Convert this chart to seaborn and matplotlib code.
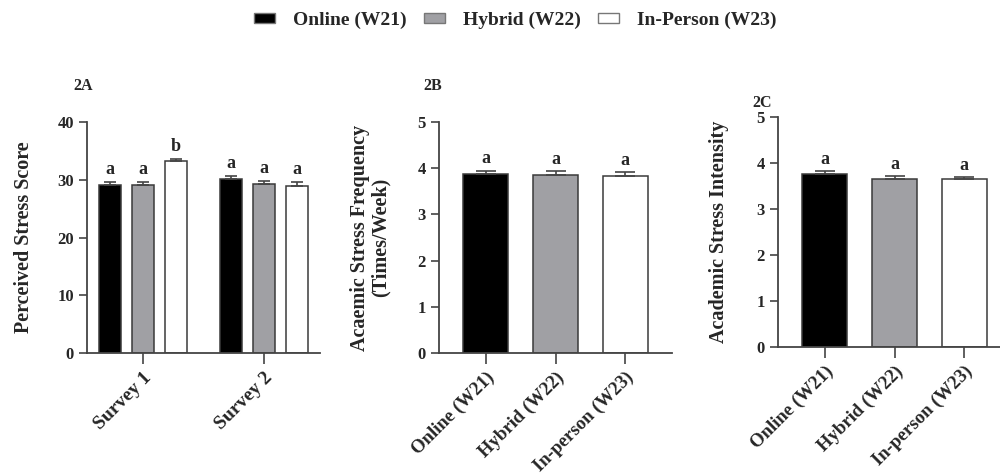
import matplotlib
matplotlib.use('Agg')
import pandas as pd
import matplotlib.pyplot as plt
import seaborn as sns
from matplotlib.patches import Patch

modes = ['Online (W21)', 'Hybrid (W22)', 'In-Person (W23)']
mode_ticks = ['Online (W21)', 'Hybrid (W22)', 'In-person (W23)']
surveys = ['Survey 1', 'Survey 2']
colors = ['#000000', '#a0a0a4', '#ffffff']

# 2A perceived stress score, per survey and mode
pss_s1 = [29.1, 29.1, 33.2]
pss_s2 = [30.2, 29.2, 29.0]
pss_err_s1 = [0.55, 0.5, 0.35]
pss_err_s2 = [0.45, 0.55, 0.6]
pss_letters_s1 = ['a', 'a', 'b']
pss_letters_s2 = ['a', 'a', 'a']

# 2B frequency, 2C intensity
freq = [3.88, 3.85, 3.83]
freq_err = [0.07, 0.08, 0.08]
intens = [3.77, 3.66, 3.65]
intens_err = [0.05, 0.05, 0.05]

sns.set_style('ticks')
plt.rcParams['font.family'] = ['Liberation Serif', 'DejaVu Serif']
plt.rcParams['font.weight'] = 'bold'
plt.rcParams['axes.labelweight'] = 'bold'

spine_c = '#444444'
edge_c = '#3a3a3a'

df_a = pd.DataFrame({
    'survey': [s for s in surveys for _ in modes],
    'mode': modes * 2,
    'value': pss_s1 + pss_s2,
    'err': pss_err_s1 + pss_err_s2,
    'letter': pss_letters_s1 + pss_letters_s2,
})
df_b = pd.DataFrame({'mode': modes, 'value': freq, 'err': freq_err, 'letter': ['a'] * 3})
df_c = pd.DataFrame({'mode': modes, 'value': intens, 'err': intens_err, 'letter': ['a'] * 3})

fig = plt.figure(figsize=(10, 4.76), dpi=100)
axA = fig.add_axes([0.087, 0.2584, 0.233, 0.4853])
axB = fig.add_axes([0.439, 0.2584, 0.233, 0.4853])
axC = fig.add_axes([0.778, 0.271, 0.233, 0.483])

pal = dict(zip(modes, colors))

sns.barplot(data=df_a, x='survey', y='value', hue='mode', hue_order=modes,
            palette=pal, width=0.82, gap=0.33, errorbar=None,
            edgecolor=edge_c, linewidth=1.1, legend=False, ax=axA)
sns.barplot(data=df_b, x='mode', y='value', hue='mode', palette=pal,
            width=0.65, errorbar=None, edgecolor=edge_c, linewidth=1.1,
            legend=False, ax=axB)
sns.barplot(data=df_c, x='mode', y='value', hue='mode', palette=pal,
            width=0.65, errorbar=None, edgecolor=edge_c, linewidth=1.1,
            legend=False, ax=axC)


def add_err(ax, df, cap, off):
    bars = sorted([p for p in ax.patches if p.get_height() > 0],
                  key=lambda p: p.get_x())
    for p, (_, row) in zip(bars, df.iterrows()):
        xc = p.get_x() + p.get_width() / 2
        h = p.get_height()
        ax.errorbar(xc, h, yerr=[[0], [row['err']]], color='#444444',
                    capsize=cap, elinewidth=1.2, capthick=1.2, zorder=1)
        ax.text(xc, h + row['err'] + off, row['letter'], ha='center',
                va='bottom', fontsize=13, fontweight='bold')


add_err(axA, df_a, 4.5, 0.7)
add_err(axB, df_b, 7.5, 0.07)
add_err(axC, df_c, 7.5, 0.07)

axA.set_ylim(0, 40)
axA.set_yticks([0, 10, 20, 30, 40])
axA.set_xlim(-0.46, 1.46)
axA.set_ylabel('Perceived Stress Score', fontsize=14.5, labelpad=17)

axB.set_ylim(0, 5)
axB.set_xlim(-0.67, 2.67)
axB.set_ylabel('Acaemic Stress Frequency\n(Times/Week)', fontsize=14.5,
               labelpad=19, linespacing=1.05)

axC.set_ylim(0, 5)
axC.set_xlim(-0.67, 2.67)
axC.set_ylabel('Academic Stress Intensity', fontsize=14.5, labelpad=20)

for ax, labels, fs in [(axA, surveys, 14), (axB, mode_ticks, 13.5),
                       (axC, mode_ticks, 13.5)]:
    ax.set_xlabel('')
    ax.set_xticks(range(len(labels)))
    ax.set_xticklabels(labels, rotation=45, ha='right', rotation_mode='anchor',
                       fontsize=fs, fontweight='bold')
    for t in ax.get_yticklabels():
        t.set_fontweight('bold')
    ax.tick_params(axis='y', labelsize=12, length=6, width=1.2, color=spine_c)
    ax.tick_params(axis='x', length=8, width=1.2, color=spine_c)
    for s in ['left', 'bottom']:
        ax.spines[s].set_color(spine_c)
        ax.spines[s].set_linewidth(1.3)
    sns.despine(ax=ax)

fig.text(0.073, 0.81, '2A', fontsize=11.5, fontweight='bold')
fig.text(0.423, 0.81, '2B', fontsize=11.5, fontweight='bold')
fig.text(0.752, 0.775, '2C', fontsize=11.5, fontweight='bold')

handles = [Patch(facecolor=c, edgecolor='#777777', linewidth=1.0) for c in colors]
fig.legend(handles, modes, loc='center', bbox_to_anchor=(0.515, 0.958),
           ncol=3, frameon=False, handlelength=1.1, handleheight=0.4,
           handletextpad=0.9, columnspacing=0.9,
           prop={'size': 14, 'weight': 'bold'})

fig.savefig('out.png', dpi=100)
